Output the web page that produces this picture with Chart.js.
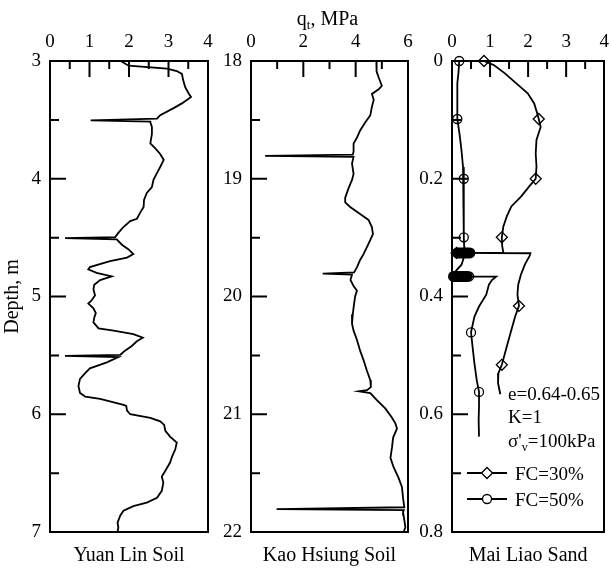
<!DOCTYPE html>
<html><head><meta charset="utf-8">
<script src="https://cdn.jsdelivr.net/npm/chart.js@4.4.0/dist/chart.umd.min.js"></script>
<style>
html,body{margin:0;padding:0;background:#fff;}
#wrap{position:relative;width:611px;height:569px;overflow:hidden;background:#fff;}
canvas{position:absolute;top:0;}
</style></head><body>
<div id="wrap">
<canvas id="c1" width="215" height="569" style="left:0px"></canvas>
<canvas id="c2" width="215" height="569" style="left:200px"></canvas>
<canvas id="c3" width="211" height="569" style="left:400px"></canvas>
</div>
<script>
// ---------------- DATA ----------------
const panelNames = ['Yuan Lin Soil', 'Kao Hsiung Soil', 'Mai Liao Sand'];
const axisTitleX = 'MPa';
const axisTitleY = 'Depth, m';

// Yuan Lin Soil: cone resistance qt (MPa) vs depth (m)
const yuanLinDepth = [3.00,3.04,3.065,3.085,3.11,3.16,3.22,3.27,3.305,3.36,3.40,3.46,3.49,3.505,3.515,3.52,3.56,3.62,3.70,3.74,3.79,3.84,3.90,3.95,4.01,4.07,4.12,4.18,4.24,4.29,4.34,4.36,4.41,4.46,4.495,4.505,4.515,4.56,4.60,4.64,4.67,4.70,4.75,4.77,4.80,4.83,4.86,4.90,4.94,4.99,5.03,5.06,5.10,5.14,5.18,5.22,5.27,5.29,5.32,5.35,5.38,5.42,5.46,5.495,5.505,5.515,5.56,5.61,5.65,5.70,5.76,5.82,5.85,5.87,5.92,5.93,5.97,6.00,6.03,6.06,6.09,6.14,6.19,6.24,6.30,6.36,6.41,6.48,6.53,6.58,6.65,6.71,6.75,6.78,6.82,6.86,6.92,6.96,7.00];
const yuanLinQt    = [1.79,1.99,2.96,3.21,3.34,3.37,3.42,3.50,3.57,3.34,3.13,2.79,2.71,1.03,2.54,2.54,2.58,2.58,2.54,2.66,2.79,2.88,2.79,2.71,2.62,2.58,2.45,2.38,2.37,2.28,2.20,2.03,1.86,1.73,1.65,0.38,1.69,1.82,1.99,2.11,1.95,1.52,1.01,0.97,1.18,1.56,1.27,1.12,1.10,1.14,1.06,0.97,1.10,1.16,1.12,1.10,1.23,1.61,2.11,2.35,2.20,2.07,1.90,1.78,0.38,1.73,1.44,1.01,0.89,0.76,0.72,0.76,0.89,1.27,1.86,1.93,1.95,2.03,2.54,2.79,2.89,2.92,3.04,3.21,3.17,3.09,3.04,2.92,2.83,2.87,2.83,2.71,2.45,2.11,1.86,1.78,1.71,1.73,1.71];

// Kao Hsiung Soil
const kaoHsiungDepth = [18.00,18.05,18.09,18.14,18.21,18.24,18.28,18.33,18.39,18.46,18.52,18.59,18.65,18.70,18.77,18.795,18.805,18.815,18.87,18.96,19.01,19.08,19.16,19.20,19.24,19.30,19.35,19.41,19.47,19.52,19.58,19.64,19.69,19.75,19.795,19.805,19.815,19.86,19.91,19.95,20.00,20.06,20.15,20.23,20.29,20.37,20.46,20.54,20.63,20.71,20.77,20.795,20.805,20.82,20.88,20.95,21.03,21.08,21.12,21.20,21.28,21.37,21.45,21.54,21.62,21.71,21.79,21.805,21.815,21.83,21.90,21.96,22.00];
const kaoHsiungQt    = [4.79,4.81,4.79,4.88,5.00,4.88,4.62,4.69,4.62,4.56,4.37,4.17,4.05,3.92,3.92,3.89,0.54,3.92,3.86,3.92,3.86,3.73,3.60,3.60,3.79,4.17,4.49,4.62,4.66,4.56,4.43,4.30,4.17,4.05,3.94,2.74,3.86,3.80,3.92,4.05,3.98,3.94,3.89,3.86,3.92,4.05,4.17,4.30,4.43,4.56,4.58,4.43,4.12,4.56,4.81,5.13,5.39,5.52,5.58,5.43,5.39,5.33,5.45,5.64,5.77,5.81,5.86,0.98,5.84,5.81,5.86,5.90,5.83];

// Mai Liao Sand (depth axis 0-0.8)
const seriesLabels = ['FC=30%', 'FC=50%'];
const fc30Depth = [0.000,0.007,0.021,0.038,0.055,0.072,0.089,0.0985,0.112,0.134,0.157,0.179,0.200,0.213,0.230,0.247,0.264,0.281,0.2995,0.315,0.3255,0.326,0.3265,0.331,0.345,0.363,0.380,0.397,0.416,0.434,0.457,0.485,0.516,0.530,0.547,0.566];
const fc30Qt    = [0.84,1.10,1.39,1.69,1.99,2.16,2.24,2.28,2.33,2.22,2.20,2.22,2.20,2.03,1.82,1.56,1.44,1.35,1.31,1.32,1.35,0.12,2.06,2.04,1.92,1.81,1.74,1.72,1.76,1.66,1.56,1.44,1.31,1.22,1.21,1.27];
const fc50Depth = [0.000,0.020,0.038,0.070,0.0985,0.125,0.152,0.180,0.200,0.230,0.259,0.2995,0.315,0.326,0.336,0.346,0.358,0.366,0.3662,0.372,0.380,0.397,0.417,0.434,0.461,0.485,0.514,0.542,0.562,0.587,0.610,0.638];
const fc50Qt    = [0.19,0.17,0.14,0.14,0.14,0.20,0.25,0.29,0.31,0.31,0.31,0.31,0.32,0.33,0.30,0.25,0.08,0.00,1.16,1.05,0.97,0.90,0.71,0.59,0.50,0.54,0.59,0.65,0.71,0.71,0.70,0.71];
const fc30MarkDepth = [0.000,0.0985,0.200,0.2995,0.416,0.516,0.326];
const fc30MarkQt    = [0.84,2.28,2.20,1.31,1.76,1.31,0.12];
const fc50MarkDepth = [0.000,0.0985,0.200,0.2995,0.461,0.562,0.366];
const fc50MarkQt    = [0.19,0.14,0.31,0.31,0.50,0.71,0.45];
// densely overlapping markers near zero resistance (drawn as solid bars)
const denseDepth = [0.326, 0.366];
const denseFrom  = [0.14, 0.04];
const denseTo    = [0.47, 0.40];
const testNotes = ['e=0.64-0.65', 'K=1'];

// tick values
const p1XLabels = [0,1,2,3,4], p1YLabels = [3,4,5,6,7];
const p2XLabels = [0,2,4,6],   p2YLabels = [18,19,20,21,22];
const p3XLabels = [0,1,2,3,4], p3YLabels = [0,0.2,0.4,0.6,0.8];
const p1XMajor = [1,2,3], p1XMinor = [0.5,1.5,2.5,3.5], p1YMajor = [4,5,6], p1YMinor = [3.5,4.5,5.5,6.5];
const p2XMajor = [2,4], p2XMinor = [1,3,5], p2YMajor = [19,20,21], p2YMinor = [18.5,19.5,20.5,21.5];
const p3XMajor = [1,2,3], p3XMinor = [0.5,1.5,2.5,3.5], p3YMajor = [0.2,0.4,0.6], p3YMinor = [0.1,0.3,0.5,0.7];

// ---------------- HELPERS ----------------
const FONT = "'Liberation Serif','Times New Roman',serif";
Chart.defaults.font.family = FONT;
Chart.defaults.color = '#000';
const zip = (xs, ys) => xs.map((x, i) => ({x: x, y: ys[i]}));

const frameTicks = {
  id: 'frameTicks',
  afterDatasetsDraw(chart, args, o) {
    const {ctx, chartArea: a, scales} = chart;
    ctx.save();
    ctx.strokeStyle = '#000';
    ctx.lineWidth = 2;
    ctx.beginPath();
    o.xMajor.forEach(v => { const p = scales.x.getPixelForValue(v); ctx.moveTo(p, a.top); ctx.lineTo(p, a.top + 16); });
    o.xMinor.forEach(v => { const p = scales.x.getPixelForValue(v); ctx.moveTo(p, a.top); ctx.lineTo(p, a.top + 8); });
    o.yMajor.forEach(v => { const p = scales.y.getPixelForValue(v); ctx.moveTo(a.left, p); ctx.lineTo(a.left + 16, p); });
    o.yMinor.forEach(v => { const p = scales.y.getPixelForValue(v); ctx.moveTo(a.left, p); ctx.lineTo(a.left + 9, p); });
    ctx.stroke();
    ctx.restore();
  }
};

function subText(ctx, parts, x, y) {
  // parts: [text, isSub]
  let cx = x;
  parts.forEach(([t, sub]) => {
    ctx.font = (sub ? '13px ' : '20px ') + FONT;
    ctx.fillText(t, cx, y + (sub ? 4 : 0));
    cx += ctx.measureText(t).width;
  });
}
function subWidth(ctx, parts) {
  let w = 0;
  parts.forEach(([t, sub]) => { ctx.font = (sub ? '13px ' : '20px ') + FONT; w += ctx.measureText(t).width; });
  return w;
}

const panelText = {
  id: 'panelText',
  afterDraw(chart, args, o) {
    const {ctx, chartArea: a} = chart;
    ctx.save();
    ctx.fillStyle = '#000';
    ctx.strokeStyle = '#000';
    ctx.textBaseline = 'alphabetic';
    ctx.textAlign = 'left';
    if (o.mainTitle) {
      const parts = [['q', false], ['t', true], [', ' + axisTitleX, false]];
      const w = subWidth(ctx, parts);
      subText(ctx, parts, (a.left + a.right) / 2 - 2 - w / 2, 25);
    }
    if (o.notes) {
      ctx.font = '19px ' + FONT;
      ctx.fillText(testNotes[0], a.left + 56, 400);
      ctx.fillText(testNotes[1], a.left + 56, 423);
      let cx = a.left + 56;
      ctx.fillText("\u03C3'", cx, 447); cx += ctx.measureText("\u03C3'").width;
      ctx.font = '12px ' + FONT; ctx.fillText('v', cx, 451); cx += ctx.measureText('v').width;
      ctx.font = '19px ' + FONT; ctx.fillText('=100kPa', cx, 447);
      // legend
      const items = chart.data.datasets.filter(d => d.inLegend);
      items.forEach((d, i) => {
        const y = 473 + i * 26;
        const x0 = a.left + 15, x1 = a.left + 55, xm = (x0 + x1) / 2;
        ctx.lineWidth = 1.8;
        ctx.beginPath(); ctx.moveTo(x0, y); ctx.lineTo(x1, y); ctx.stroke();
        ctx.lineWidth = 1.3;
        ctx.fillStyle = '#fff';
        ctx.beginPath();
        if (d.legendStyle === 'rectRot') {
          const r = 5.5;
          ctx.moveTo(xm - r, y); ctx.lineTo(xm, y - r); ctx.lineTo(xm + r, y); ctx.lineTo(xm, y + r); ctx.closePath();
        } else {
          ctx.arc(xm, y, 4.5, 0, Math.PI * 2);
        }
        ctx.fill(); ctx.stroke();
        ctx.fillStyle = '#000';
        ctx.font = '19px ' + FONT;
        ctx.fillText(d.label, a.left + 63, y + 7);
      });
    }
    ctx.restore();
  }
};

function setTicks(arr) { return s => { s.ticks = arr.map(v => ({value: v})); }; }

function makePanel(id, cfg) {
  const border = {display: true, color: '#000', width: 2};
  const grid = {display: false, drawTicks: false};
  const tickFont = {size: 19, family: FONT};
  return new Chart(document.getElementById(id), {
    type: 'scatter',
    data: {datasets: cfg.datasets},
    options: {
      responsive: false, animation: false, devicePixelRatio: 1,
      layout: {padding: 0},
      events: [],
      plugins: {
        legend: {display: false}, tooltip: {enabled: false},
        frameTicks: cfg.ticks, panelText: cfg.texts
      },
      scales: {
        x: {type: 'linear', position: 'top', min: cfg.xMin, max: cfg.xMax,
            afterBuildTicks: setTicks(cfg.xLabels),
            ticks: {color: '#000', font: tickFont, padding: 8, maxRotation: 0, autoSkip: false},
            grid: grid, border: border,
            afterFit(s) { s.height = 61; s.paddingLeft = 0; s.paddingRight = 0; }},
        x2: {type: 'linear', position: 'bottom', display: true, min: cfg.xMin, max: cfg.xMax,
            ticks: {display: false}, grid: grid, border: border,
            title: {display: true, text: cfg.caption, color: '#000', font: {size: 20, family: FONT}, padding: {top: 0, bottom: 1}},
            afterFit(s) { s.height = 37; s.paddingLeft = 0; s.paddingRight = 0; }},
        y: {type: 'linear', position: 'left', reverse: true, min: cfg.yMin, max: cfg.yMax,
            afterBuildTicks: setTicks(cfg.yLabels),
            ticks: {color: '#000', font: tickFont, padding: 9, autoSkip: false},
            grid: grid, border: border,
            title: {display: !!cfg.yTitle, text: cfg.yTitle || '', color: '#000', font: {size: 20, family: FONT}, padding: {top: 1, bottom: 0}},
            afterFit(s) { s.width = cfg.leftW; s.paddingTop = 0; s.paddingBottom = 0; }},
        y2: {type: 'linear', position: 'right', display: true, reverse: true, min: cfg.yMin, max: cfg.yMax,
            ticks: {display: false}, grid: grid, border: border,
            afterFit(s) { s.width = cfg.rightW; s.paddingTop = 0; s.paddingBottom = 0; }}
      }
    },
    plugins: [frameTicks, panelText]
  });
}

const curveStyle = {showLine: true, borderColor: '#000', borderWidth: 1.8, pointRadius: 0, fill: false, tension: 0, clip: 3};

makePanel('c1', {
  xMin: 0, xMax: 4, yMin: 3, yMax: 7, xLabels: p1XLabels, yLabels: p1YLabels,
  leftW: 50, rightW: 7, caption: panelNames[0], yTitle: axisTitleY,
  ticks: {xMajor: p1XMajor, xMinor: p1XMinor, yMajor: p1YMajor, yMinor: p1YMinor},
  texts: {},
  datasets: [Object.assign({label: panelNames[0], data: zip(yuanLinQt, yuanLinDepth)}, curveStyle)]
});

makePanel('c2', {
  xMin: 0, xMax: 6, yMin: 18, yMax: 22, xLabels: p2XLabels, yLabels: p2YLabels,
  leftW: 51, rightW: 7, caption: panelNames[1],
  ticks: {xMajor: p2XMajor, xMinor: p2XMinor, yMajor: p2YMajor, yMinor: p2YMinor},
  texts: {mainTitle: true},
  datasets: [Object.assign({label: panelNames[1], data: zip(kaoHsiungQt, kaoHsiungDepth)}, curveStyle)]
});

const markerStyle = {showLine: false, pointBorderColor: '#000', pointBackgroundColor: 'rgba(0,0,0,0)', pointBorderWidth: 1.3, clip: false};
const denseSets = denseDepth.map((d, i) => ({
  label: 'dense', data: [{x: denseFrom[i], y: d}, {x: denseTo[i], y: d}],
  showLine: true, borderColor: '#000', borderWidth: 11, borderCapStyle: 'round', pointRadius: 0, clip: false
}));

makePanel('c3', {
  xMin: 0, xMax: 4, yMin: 0, yMax: 0.8, xLabels: p3XLabels, yLabels: p3YLabels,
  leftW: 52, rightW: 2, caption: panelNames[2],
  ticks: {xMajor: p3XMajor, xMinor: p3XMinor, yMajor: p3YMajor, yMinor: p3YMinor},
  texts: {notes: true},
  datasets: [
    Object.assign({label: seriesLabels[0], data: zip(fc30Qt, fc30Depth), inLegend: true, legendStyle: 'rectRot'}, curveStyle),
    Object.assign({label: seriesLabels[1], data: zip(fc50Qt, fc50Depth), inLegend: true, legendStyle: 'circle'}, curveStyle),
    ...denseSets,
    Object.assign({label: seriesLabels[0] + ' markers', data: zip(fc30MarkQt, fc30MarkDepth), pointStyle: 'rectRot', pointRadius: 5.5}, markerStyle),
    Object.assign({label: seriesLabels[1] + ' markers', data: zip(fc50MarkQt, fc50MarkDepth), pointStyle: 'circle', pointRadius: 4.5}, markerStyle)
  ]
});
</script>
</body></html>
